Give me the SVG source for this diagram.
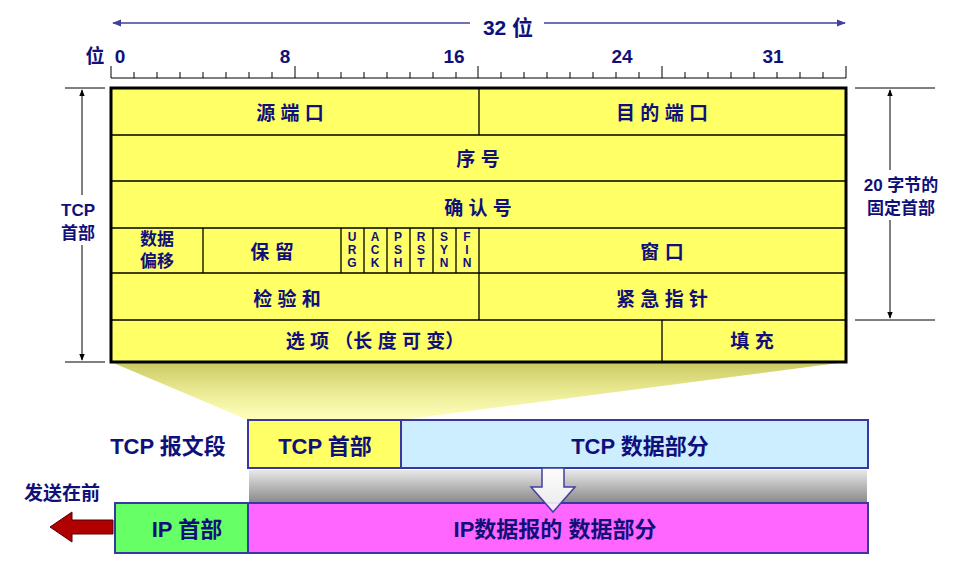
<svg xmlns="http://www.w3.org/2000/svg" width="971" height="578" viewBox="0 0 971 578">
<style>
text{font-family:"Liberation Sans","Noto Sans CJK SC",sans-serif;font-weight:bold;fill:#10107a;text-anchor:middle}
.f{font-size:19px}
.s{font-size:12px}
.c{stroke:#000;stroke-width:1.3;fill:none}
.dim{stroke:#000;stroke-width:1}
</style>
<defs>
<marker id="ab" viewBox="0 0 10 10" refX="9" refY="5" markerWidth="7" markerHeight="7" orient="auto-start-reverse"><path d="M0,1L10,5L0,9z" fill="#000"/></marker>
<marker id="ap" viewBox="0 0 10 10" refX="9" refY="5" markerWidth="6" markerHeight="6" orient="auto-start-reverse"><path d="M0,1L10,5L0,9z" fill="#4040a0"/></marker>
<linearGradient id="tz" x1="0" y1="0" x2="0" y2="1"><stop offset="0" stop-color="#c8c860"/><stop offset="1" stop-color="#ffff90" stop-opacity="0.6"/></linearGradient>
<linearGradient id="gb" x1="0" y1="0" x2="0" y2="1"><stop offset="0" stop-color="#e8e8e8"/><stop offset="1" stop-color="#888"/></linearGradient>
</defs>
<g id="ruler">
<line x1="113" y1="23" x2="845" y2="23" stroke="#4040a0" stroke-width="1.5" marker-start="url(#ap)" marker-end="url(#ap)"/>
<rect x="470" y="12" width="74" height="26" fill="#fff"/>
<text x="508" y="35" style="font-size:21px">32 位</text>
<text x="95" y="63" class="f">位</text>
<text x="120" y="63" class="f">0</text>
<text x="285" y="63" class="f">8</text>
<text x="454" y="63" class="f">16</text>
<text x="622" y="63" class="f">24</text>
<text x="773" y="63" class="f">31</text>
<line x1="111" y1="78" x2="846" y2="78" class="dim"/>
<path d="M111,66V78M295,66V78M478,66V78M662,66V78M846,66V78" class="dim"/>
<path d="M134,72V78M157,72V78M180,72V78M203,72V78M226,72V78M249,72V78M272,72V78M318,72V78M341,72V78M364,72V78M387,72V78M410,72V78M433,72V78M456,72V78M501,72V78M524,72V78M547,72V78M570,72V78M593,72V78M616,72V78M639,72V78M685,72V78M708,72V78M731,72V78M754,72V78M777,72V78M800,72V78M823,72V78" class="dim"/>
</g>
<polygon id="zoomshade" points="111,362 846,362 400,420 248,420" fill="url(#tz)"/>
<g id="header">
<rect x="111" y="88" width="735" height="274" fill="#ffff66" stroke="#000" stroke-width="3"/>
<path d="M111,135H846M111,181H846M111,228H846M111,273H846M111,320H846M479,88V135M479,273V320M203,228V273M341,228V273M364,228V273M387,228V273M410,228V273M433,228V273M456,228V273M479,228V273M662,320V362" class="c"/>
<text x="290" y="120" class="f">源 端 口</text>
<text x="662" y="120" class="f">目 的 端 口</text>
<text x="478" y="166" class="f">序 号</text>
<text x="478" y="215" class="f">确 认 号</text>
<text x="157" y="245" style="font-size:17px">数据</text>
<text x="157" y="267" style="font-size:17px">偏移</text>
<text x="272" y="259" class="f">保 留</text>
<text x="352" y="241" class="s">U</text><text x="352" y="254" class="s">R</text><text x="352" y="267" class="s">G</text>
<text x="375" y="241" class="s">A</text><text x="375" y="254" class="s">C</text><text x="375" y="267" class="s">K</text>
<text x="398" y="241" class="s">P</text><text x="398" y="254" class="s">S</text><text x="398" y="267" class="s">H</text>
<text x="421" y="241" class="s">R</text><text x="421" y="254" class="s">S</text><text x="421" y="267" class="s">T</text>
<text x="444" y="241" class="s">S</text><text x="444" y="254" class="s">Y</text><text x="444" y="267" class="s">N</text>
<text x="467" y="241" class="s">F</text><text x="467" y="254" class="s">I</text><text x="467" y="267" class="s">N</text>
<text x="662" y="259" class="f">窗 口</text>
<text x="287" y="306" class="f">检 验 和</text>
<text x="662" y="306" class="f">紧 急 指 针</text>
<text x="375" y="348" class="f">选 项 （长 度 可 变）</text>
<text x="752" y="348" class="f">填 充</text>
</g>
<g id="dims">
<path d="M65,88H105M65,362H105M855,88H935M855,320H935" class="dim"/>
<line x1="82" y1="90" x2="82" y2="360" class="dim" marker-start="url(#ab)" marker-end="url(#ab)"/>
<line x1="890" y1="90" x2="890" y2="318" class="dim" marker-start="url(#ab)" marker-end="url(#ab)"/>
<rect x="55" y="195" width="50" height="50" fill="#fff"/>
<text x="78" y="216" style="font-size:17px">TCP</text>
<text x="78" y="239" style="font-size:17px">首部</text>
<rect x="853" y="170" width="96" height="50" fill="#fff"/>
<text x="901" y="191" style="font-size:17px">20 字节的</text>
<text x="901" y="214" style="font-size:17px">固定首部</text>
</g>
<g id="tcpseg">
<text x="168" y="454" style="font-size:22px">TCP 报文段</text>
<rect x="248" y="420" width="153" height="48" fill="#ffff66" stroke="#3838a0" stroke-width="2"/>
<rect x="401" y="420" width="467" height="48" fill="#cceeff" stroke="#3838a0" stroke-width="2"/>
<text x="325" y="454" style="font-size:22px">TCP 首部</text>
<text x="640" y="454" style="font-size:22px">TCP 数据部分</text>
</g>
<rect id="graybar" x="249" y="470" width="618" height="33" fill="url(#gb)"/>
<g id="ipdg">
<rect x="115" y="503" width="133" height="50" fill="#66ff66" stroke="#3838a0" stroke-width="2"/>
<rect x="248" y="503" width="620" height="50" fill="#ff66ff" stroke="#3838a0" stroke-width="2"/>
<text x="187" y="537" style="font-size:22px">IP 首部</text>
<text x="555" y="537" style="font-size:22px">IP数据报的 数据部分</text>
</g>
<g id="connectors">
<polygon points="542,468 564,468 564,487 575,487 553,512 531,487 542,487" fill="#fff" fill-opacity="0.85" stroke="#4040a0" stroke-width="1.5"/>
<polygon points="113,520 72,520 72,512 50,527 72,542 72,534 113,534" fill="#b00000" stroke="#500" stroke-width="1"/>
</g>
<text x="62" y="500" style="font-size:19px">发送在前</text>
</svg>
